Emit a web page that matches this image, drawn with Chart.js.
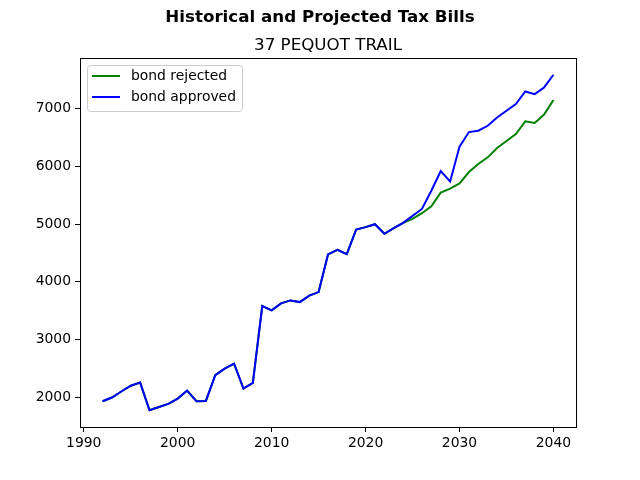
<!DOCTYPE html>
<html><head><meta charset="utf-8">
<script src="https://cdn.jsdelivr.net/npm/chart.js@4.4.0/dist/chart.umd.min.js"></script>
<style>html,body{margin:0;padding:0;background:#fff}#wrap{width:640px;height:480px;position:relative}</style>
</head><body><div id="wrap"><canvas id="c"></canvas></div>
<script>
const years = [];
for (let y = 1992; y <= 2040; y++) years.push(y);
const bondApproved = [1930,1995,2100,2200,2254,1775,1832,1884,1977,2115,1931,1936,2381,2496,2583,2150,2248,3580,3505,3626,3678,3649,3760,3822,4474,4555,4480,4907,4948,4998,4832,4929,5021,5142,5263,5579,5920,5740,6341,6595,6618,6704,6849,6965,7080,7299,7253,7368,7588];
const bondRejected = [1930,1995,2100,2200,2254,1775,1832,1884,1977,2115,1931,1936,2381,2496,2583,2150,2248,3580,3505,3626,3678,3649,3760,3822,4474,4555,4480,4907,4948,4998,4832,4929,5021,5090,5189,5310,5545,5614,5706,5903,6041,6157,6319,6440,6561,6782,6753,6898,7150];
const xTicks = [1990,2000,2010,2020,2030,2040];
const yTicks = [2000,3000,4000,5000,6000,7000];
const seriesLabels = ['bond rejected','bond approved'];
const seriesColors = ['#008000','#0000ff'];
const mainTitle = 'Historical and Projected Tax Bills';
const subTitle = '37 PEQUOT TRAIL';

const FONT = '"DejaVu Sans", sans-serif';
const allVals = bondApproved.concat(bondRejected);
const yMin = Math.min(...allVals), yMax = Math.max(...allVals);
const yPad = (yMax - yMin) * 0.05;
const xPad = (years[years.length-1] - years[0]) * 0.05;

const decor = {
  id: 'decor',
  afterDraw(chart) {
    const ctx = chart.ctx, a = chart.chartArea;
    ctx.save();
    ctx.strokeStyle = '#000'; ctx.lineWidth = 1;
    ctx.strokeRect(Math.round(a.left)+0.5, Math.round(a.top)+0.5, Math.round(a.right-a.left), Math.round(a.bottom-a.top));
    ctx.fillStyle = '#000';
    ctx.textAlign = 'center'; ctx.textBaseline = 'alphabetic';
    ctx.font = 'bold 16.7px ' + FONT;
    ctx.fillText(mainTitle, 320, 22);
    ctx.font = '16.7px ' + FONT;
    ctx.fillText(subTitle, (a.left + a.right) / 2, 50);
    // legend
    const lx = a.left + 7, ly = a.top + 7, lw = 155, lh = 46;
    ctx.beginPath();
    if (ctx.roundRect) ctx.roundRect(lx+0.5, ly+0.5, lw, lh, 3); else ctx.rect(lx+0.5, ly+0.5, lw, lh);
    ctx.fillStyle = 'rgba(255,255,255,0.8)'; ctx.fill();
    ctx.strokeStyle = '#cccccc'; ctx.stroke();
    ctx.font = '13.9px ' + FONT; ctx.textAlign = 'left'; ctx.textBaseline = 'middle';
    for (let i = 0; i < seriesLabels.length; i++) {
      const yy = ly + 11 + i * 21;
      ctx.strokeStyle = seriesColors[i]; ctx.lineWidth = 2;
      ctx.beginPath(); ctx.moveTo(lx + 5, yy); ctx.lineTo(lx + 33, yy); ctx.stroke();
      ctx.fillStyle = '#000';
      ctx.fillText(seriesLabels[i], lx + 44, yy);
    }
    ctx.restore();
  }
};

new Chart(document.getElementById('c'), {
  type: 'line',
  data: {
    labels: years,
    datasets: [
      { label: seriesLabels[0], order: 1, data: years.map((y,i)=>({x:y,y:bondRejected[i]})), borderColor: seriesColors[0], borderWidth: 2, pointRadius: 0, fill: false, tension: 0 },
      { label: seriesLabels[1], order: 0, data: years.map((y,i)=>({x:y,y:bondApproved[i]})), borderColor: seriesColors[1], borderWidth: 2, pointRadius: 0, fill: false, tension: 0 }
    ]
  },
  options: {
    responsive: true, maintainAspectRatio: false, animation: false,
    layout: { padding: { left: 0, top: 58, right: 64, bottom: 0 } },
    plugins: { legend: { display: false }, tooltip: { enabled: false } },
    scales: {
      x: {
        type: 'linear', min: years[0] - xPad, max: years[years.length-1] + xPad,
        afterBuildTicks(s) { s.ticks = xTicks.map(v => ({ value: v })); },
        afterFit(s) { s.height = 53; },
        grid: { display: true, drawOnChartArea: false, drawTicks: true, tickLength: 5, color: '#000', tickColor: '#000' },
        border: { display: false },
        ticks: { color: '#000', font: { family: FONT, size: 13.9 }, padding: 3, maxRotation: 0, callback: v => String(v) }
      },
      y: {
        type: 'linear', min: yMin - yPad, max: yMax + yPad,
        afterBuildTicks(s) { s.ticks = yTicks.map(v => ({ value: v })); },
        afterFit(s) { s.width = 80; },
        grid: { display: true, drawOnChartArea: false, drawTicks: true, tickLength: 5, color: '#000', tickColor: '#000' },
        border: { display: false },
        ticks: { color: '#000', font: { family: FONT, size: 13.9 }, padding: 4, callback: v => String(v) }
      }
    }
  },
  plugins: [decor]
});
</script></body></html>
